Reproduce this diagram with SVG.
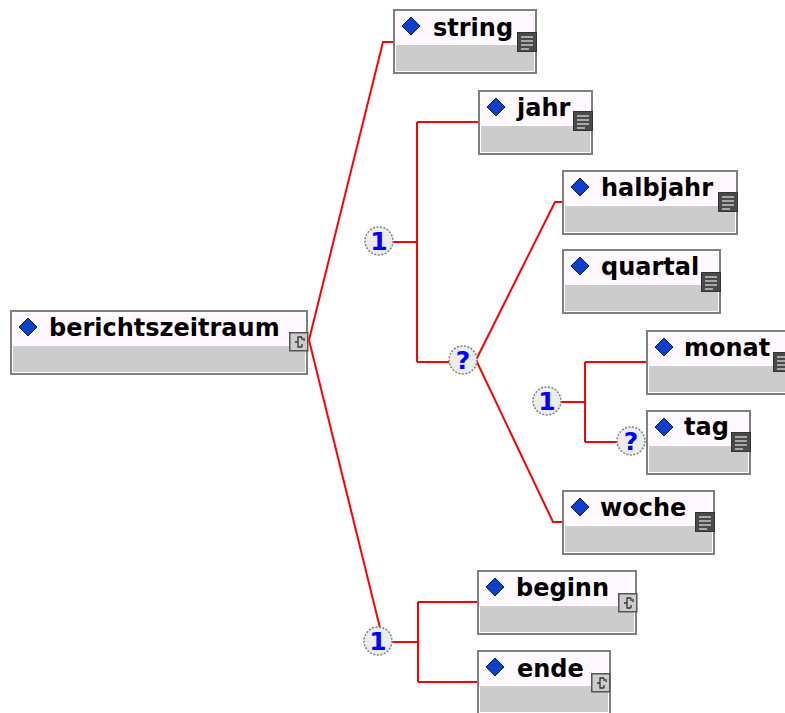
<svg xmlns="http://www.w3.org/2000/svg" width="785" height="713" viewBox="0 0 785 713">
<style>
.frame{fill:#ffffff;stroke:#7f7f7f;stroke-width:2}
.hd{fill:#fff8ff}
.band{fill:#cccccc}
.dia{fill:#1040c8;stroke:#00205a;stroke-width:1}
.lbl{font-family:"DejaVu Sans","Liberation Sans",sans-serif;font-weight:bold;font-size:24px;fill:#000000}
.conn{fill:none;stroke:#ff0000;stroke-width:2}
.comp circle{fill:#ececec;stroke:#808080;stroke-width:1.5;stroke-dasharray:2 1.5}
.comp text{font-family:"DejaVu Sans","Liberation Sans",sans-serif;font-weight:bold;font-size:25px;fill:#0000ff;text-anchor:middle}
</style>
<defs>
<g id="simpleIcon">
<rect x="0.5" y="0.5" width="19" height="19" fill="#4a4a4a" stroke="#333333"/>
<path d="M4,5H16M4,9H16M4,13H16M4,17H12" stroke="#c8c8c8" stroke-width="1.5" fill="none"/>
</g>
<g id="complexIcon">
<rect x="0.75" y="0.75" width="18" height="18" fill="#cccccc" stroke="#555555" stroke-width="1.5"/>
<path d="M13,5H9V15H13M9,10H6M13,5V8M15,6V9M13,15V12" stroke="#333333" stroke-width="1.3" fill="none"/>
</g>
<path id="diamond" d="M18,8L27,17L18,26L9,17Z"/>
</defs>

<g id="connectors">
<path class="conn" d="M309,340L383,42H393"/>
<path class="conn" d="M309,340L380,628"/>
<path class="conn" d="M392,242H417M417,122V362M417,122H478M417,362H450"/>
<path class="conn" d="M476,360L555,202H562"/>
<path class="conn" d="M476,360L553,522H562"/>
<path class="conn" d="M560,402H585M585,362V442M585,362H646M585,442H618"/>
<path class="conn" d="M392,642H418M418,602V682M418,602H477M418,682H477"/>
</g>

<g id="node-berichtszeitraum" transform="translate(10,310)">
<rect class="frame" x="1" y="1" width="296" height="63"/>
<rect class="hd" x="3" y="3" width="292" height="32"/>
<rect class="band" x="3" y="36" width="292" height="26"/>
<use href="#diamond" class="dia"/>
<text class="lbl" x="39" y="26">berichtszeitraum</text>
<use href="#complexIcon" x="279" y="22"/>
</g>

<g id="node-string" transform="translate(393,9)">
<rect class="frame" x="1" y="1" width="142" height="63"/>
<rect class="hd" x="3" y="3" width="138" height="32"/>
<rect class="band" x="3" y="36" width="138" height="26"/>
<use href="#diamond" class="dia"/>
<text class="lbl" x="40" y="27">string</text>
<use href="#simpleIcon" x="124" y="23"/>
</g>

<g id="node-jahr" transform="translate(478,90)">
<rect class="frame" x="1" y="1" width="113" height="63"/>
<rect class="hd" x="3" y="3" width="109" height="32"/>
<rect class="band" x="3" y="36" width="109" height="26"/>
<use href="#diamond" class="dia"/>
<text class="lbl" x="39" y="26">jahr</text>
<use href="#simpleIcon" x="95" y="21"/>
</g>

<g id="node-halbjahr" transform="translate(562,170)">
<rect class="frame" x="1" y="1" width="174" height="63"/>
<rect class="hd" x="3" y="3" width="170" height="32"/>
<rect class="band" x="3" y="36" width="170" height="26"/>
<use href="#diamond" class="dia"/>
<text class="lbl" x="39" y="26">halbjahr</text>
<use href="#simpleIcon" x="156" y="22"/>
</g>

<g id="node-quartal" transform="translate(562,249)">
<rect class="frame" x="1" y="1" width="157" height="63"/>
<rect class="hd" x="3" y="3" width="153" height="32"/>
<rect class="band" x="3" y="36" width="153" height="26"/>
<use href="#diamond" class="dia"/>
<text class="lbl" x="39" y="26">quartal</text>
<use href="#simpleIcon" x="139" y="23"/>
</g>

<g id="node-monat" transform="translate(646,330)">
<rect class="frame" x="1" y="1" width="145" height="63"/>
<rect class="hd" x="3" y="3" width="141" height="32"/>
<rect class="band" x="3" y="36" width="141" height="26"/>
<use href="#diamond" class="dia"/>
<text class="lbl" x="38" y="26">monat</text>
<use href="#simpleIcon" x="127" y="22"/>
</g>

<g id="node-tag" transform="translate(646,410)">
<rect class="frame" x="1" y="1" width="103" height="63"/>
<rect class="hd" x="3" y="3" width="99" height="32"/>
<rect class="band" x="3" y="36" width="99" height="26"/>
<use href="#diamond" class="dia"/>
<text class="lbl" x="38" y="25">tag</text>
<use href="#simpleIcon" x="85" y="22"/>
</g>

<g id="node-woche" transform="translate(562,490)">
<rect class="frame" x="1" y="1" width="151" height="63"/>
<rect class="hd" x="3" y="3" width="147" height="32"/>
<rect class="band" x="3" y="36" width="147" height="26"/>
<use href="#diamond" class="dia"/>
<text class="lbl" x="38" y="26">woche</text>
<use href="#simpleIcon" x="133" y="22"/>
</g>

<g id="node-beginn" transform="translate(477,570)">
<rect class="frame" x="1" y="1" width="158" height="63"/>
<rect class="hd" x="3" y="3" width="154" height="32"/>
<rect class="band" x="3" y="36" width="154" height="26"/>
<use href="#diamond" class="dia"/>
<text class="lbl" x="39" y="26">beginn</text>
<use href="#complexIcon" x="141" y="23"/>
</g>

<g id="node-ende" transform="translate(477,650)">
<rect class="frame" x="1" y="1" width="132" height="63"/>
<rect class="hd" x="3" y="3" width="128" height="32"/>
<rect class="band" x="3" y="36" width="128" height="26"/>
<use href="#diamond" class="dia"/>
<text class="lbl" x="40" y="27">ende</text>
<use href="#complexIcon" x="114" y="23"/>
</g>

<g id="comp-choice1" class="comp"><circle cx="379" cy="241" r="14"/><text x="379" y="250">1</text></g>
<g id="comp-opt1" class="comp"><circle cx="463" cy="360" r="14"/><text x="463" y="369">?</text></g>
<g id="comp-seq-monat" class="comp"><circle cx="547" cy="401" r="14"/><text x="547" y="410">1</text></g>
<g id="comp-opt-tag" class="comp"><circle cx="631" cy="441" r="14"/><text x="631" y="450">?</text></g>
<g id="comp-seq-bottom" class="comp"><circle cx="378" cy="641" r="14"/><text x="378" y="650">1</text></g>
</svg>
